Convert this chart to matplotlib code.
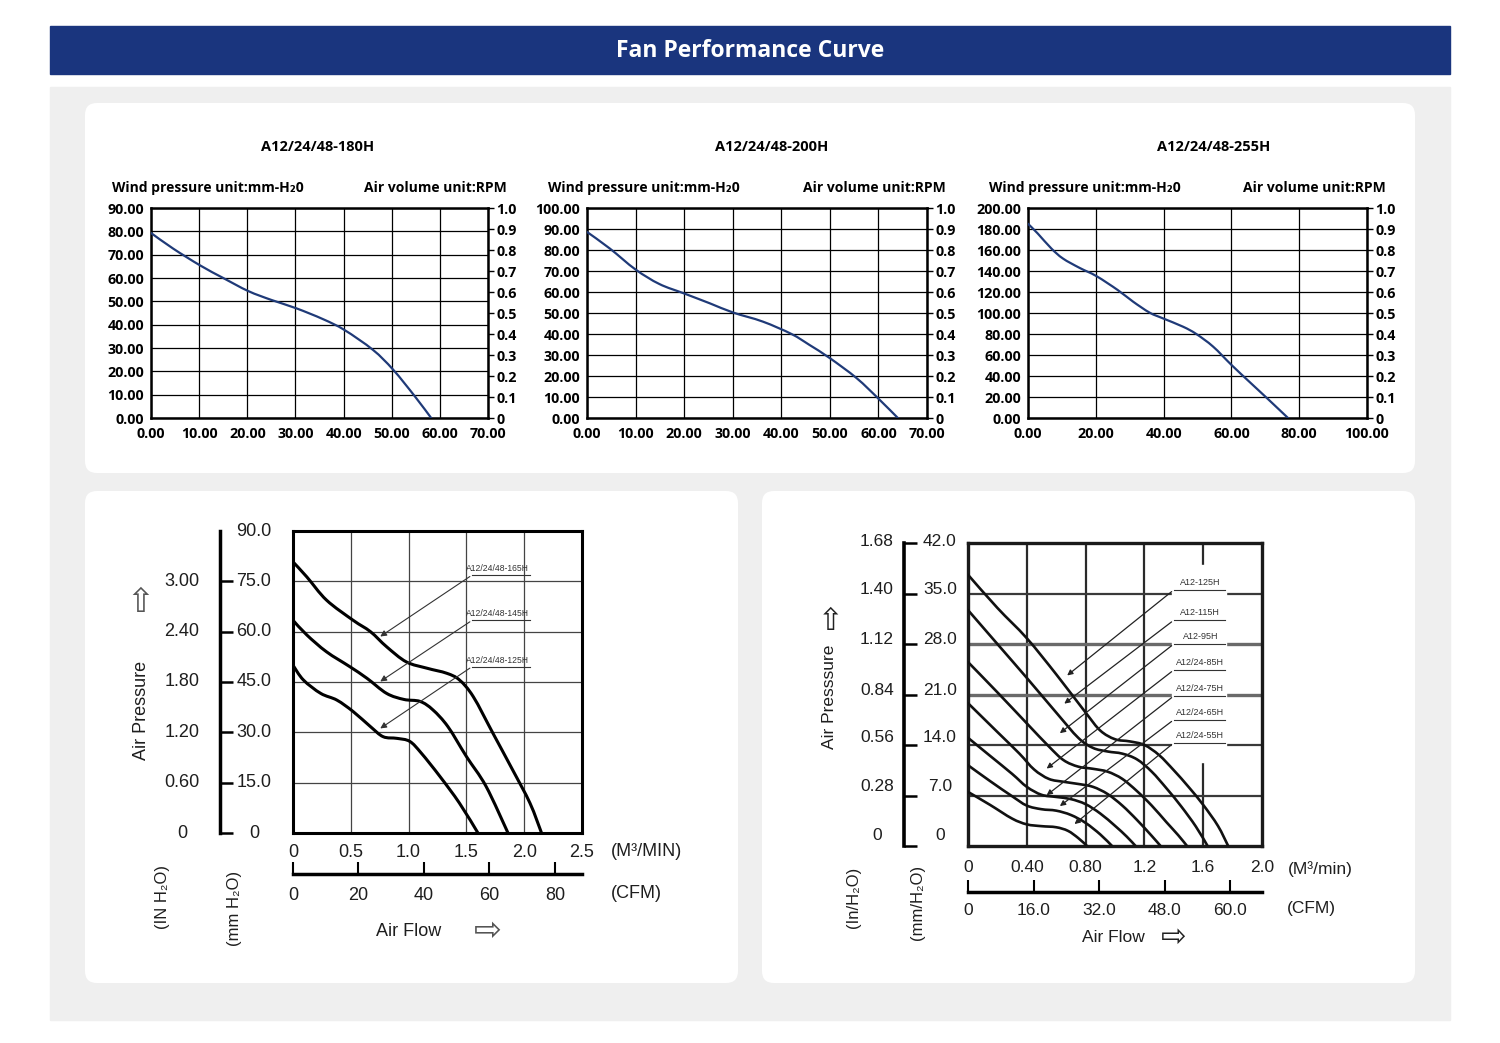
import numpy as np
import matplotlib
matplotlib.use("Agg")
import matplotlib.pyplot as plt
import matplotlib.transforms as mtransforms
from matplotlib.patches import FancyBboxPatch, Rectangle, PathPatch
from matplotlib.path import Path

plt.rcParams['font.family'] = ['Open Sans', 'DejaVu Sans']

W, H = 1500, 1043
NAVY = '#1f3a78'

# curvas superiores: caudal vs presion (mm-H2O)
x_180h = [0, 4.6, 10.2, 15.0, 20.2, 25.0, 30.2, 35.8, 40.2, 46.1, 50.3, 54.8, 58.2]
y_180h = [79.3, 72.6, 65.4, 60.0, 54.4, 50.6, 47.0, 42.3, 37.7, 29.2, 20.7, 9.3, 0]

x_200h = [0, 4.7, 10.0, 14.9, 20.0, 25.3, 30.1, 36.2, 42.1, 45.8, 50.0, 55.5, 60.1, 64.0]
y_200h = [88.6, 80.7, 70.7, 63.8, 59.3, 54.6, 50.2, 45.9, 40.0, 34.8, 28.5, 19.0, 9.0, 0]

x_255h = [0, 2.9, 6.9, 10.3, 15.2, 20.2, 26.5, 31.0, 35.9, 39.8, 45.7, 49.6, 54.6, 60.0, 65.4, 70.8, 76.7]
y_255h = [185, 175.6, 161.4, 151.9, 143, 135.1, 121.8, 110.8, 100.3, 94.9, 87, 80.1, 68, 50.6, 34.2, 18, 0]

rpm_ticks = [0, 0.1, 0.2, 0.3, 0.4, 0.5, 0.6, 0.7, 0.8, 0.9, 1.0]
rpm_labels = ['0', '0.1', '0.2', '0.3', '0.4', '0.5', '0.6', '0.7', '0.8', '0.9', '1.0']

# abajo izquierda: M3/min vs mm H2O
bl_names = ['A12/24/48-165H', 'A12/24/48-145H', 'A12/24/48-125H']
bl_x = [
    [0, 0.12, 0.29, 0.52, 0.67, 0.81, 0.98, 1.16, 1.33, 1.44, 1.56, 1.73, 1.90, 2.05, 2.15],
    [0, 0.12, 0.29, 0.49, 0.64, 0.81, 0.96, 1.10, 1.21, 1.34, 1.50, 1.67, 1.86],
    [0, 0.09, 0.24, 0.38, 0.52, 0.67, 0.78, 0.90, 1.01, 1.11, 1.27, 1.44, 1.60],
]
bl_y = [
    [80.8, 76.3, 69.4, 63.4, 60.0, 55.5, 51.0, 49.1, 47.6, 45.6, 40.6, 29.7, 18.8, 8.9, 0],
    [63.4, 59.0, 54.0, 49.6, 46.1, 41.6, 39.8, 39.2, 36.7, 31.7, 22.8, 13.9, 0],
    [50.0, 45.6, 41.6, 39.6, 36.2, 31.7, 28.7, 28.2, 27.3, 23.8, 16.9, 8.9, 0],
]
bl_tips = [(0.735, 58.1), (0.735, 44.7), (0.735, 30.7)]
bl_mm_ticks = [0, 15, 30, 45, 60, 75]
bl_mm_labels = ['0', '15.0', '30.0', '45.0', '60.0', '75.0']
bl_in_labels = ['0', '0.60', '1.20', '1.80', '2.40', '3.00']
bl_flow_ticks = [0, 0.5, 1.0, 1.5, 2.0, 2.5]
bl_flow_labels = ['0', '0.5', '1.0', '1.5', '2.0', '2.5']
bl_cfm_ticks = [0, 20, 40, 60, 80]

# abajo derecha
br_names = ['A12-125H', 'A12-115H', 'A12-95H', 'A12/24-85H', 'A12/24-75H', 'A12/24-65H', 'A12/24-55H']
br_x = [
    [0, 0.2, 0.4, 0.6, 0.8, 0.9, 1.0, 1.1, 1.2, 1.3, 1.4, 1.5, 1.6, 1.7, 1.77],
    [0, 0.2, 0.4, 0.6, 0.75, 0.85, 0.95, 1.05, 1.15, 1.25, 1.35, 1.45, 1.55, 1.63],
    [0, 0.2, 0.4, 0.55, 0.65, 0.75, 0.85, 0.95, 1.05, 1.15, 1.25, 1.35, 1.43, 1.49],
    [0, 0.2, 0.35, 0.45, 0.55, 0.65, 0.75, 0.85, 0.95, 1.05, 1.15, 1.25, 1.31],
    [0, 0.15, 0.3, 0.4, 0.5, 0.6, 0.7, 0.8, 0.9, 1.0, 1.08, 1.14],
    [0, 0.15, 0.3, 0.4, 0.5, 0.6, 0.7, 0.8, 0.9, 0.98],
    [0, 0.15, 0.3, 0.4, 0.5, 0.6, 0.68, 0.75, 0.81],
]
br_y = [
    [37.6, 33.0, 28.8, 23.8, 18.5, 16.0, 14.8, 14.5, 14.0, 12.6, 10.5, 8.2, 5.7, 2.8, 0],
    [32.7, 28.0, 23.3, 18.5, 15.0, 13.6, 13.1, 12.8, 12.0, 10.3, 8.0, 5.5, 2.7, 0],
    [25.5, 21.3, 17.0, 13.8, 11.9, 11.0, 10.7, 10.3, 9.3, 7.6, 5.6, 3.3, 1.5, 0],
    [19.8, 15.8, 12.8, 10.6, 9.3, 8.9, 8.6, 8.2, 7.2, 5.6, 3.6, 1.4, 0],
    [15.0, 12.5, 10.0, 8.2, 7.1, 6.8, 6.5, 5.8, 4.5, 2.8, 1.3, 0],
    [11.2, 9.0, 6.9, 5.6, 5.1, 4.9, 4.3, 3.2, 1.6, 0],
    [7.5, 5.7, 3.8, 3.0, 2.75, 2.6, 2.1, 1.1, 0],
]
br_tips = [(0.66, 23.4), (0.64, 19.5), (0.61, 15.4), (0.52, 10.5), (0.52, 6.8), (0.61, 5.3), (0.71, 2.8)]
br_mm_ticks = [0, 7, 14, 21, 28, 35, 42]
br_mm_labels = ['0', '7.0', '14.0', '21.0', '28.0', '35.0', '42.0']
br_in_labels = ['0', '0.28', '0.56', '0.84', '1.12', '1.40', '1.68']
br_flow_ticks = [0, 0.4, 0.8, 1.2, 1.6, 2.0]
br_flow_labels = ['0', '0.40', '0.80', '1.2', '1.6', '2.0']
br_cfm_ticks = [0, 16, 32, 48, 64]
br_cfm_labels = ['0', '16.0', '32.0', '48.0', '60.0']


def smooth_line(ax, xs, ys, **kw):
    # curva suave (bezier tipo catmull-rom) que pasa por los puntos leidos
    p = list(zip(xs, ys))
    p = [p[0]] + p + [p[-1]]
    verts = [p[1]]
    codes = [Path.MOVETO]
    for i in range(1, len(p) - 2):
        p0, p1, p2, p3 = p[i - 1], p[i], p[i + 1], p[i + 2]
        c1 = (p1[0] + (p2[0] - p0[0]) / 6, p1[1] + (p2[1] - p0[1]) / 6)
        c2 = (p2[0] - (p3[0] - p1[0]) / 6, p2[1] - (p3[1] - p1[1]) / 6)
        verts += [c1, c2, p2]
        codes += [Path.CURVE4] * 3
    ax.add_patch(PathPatch(Path(verts, codes), fill=False, capstyle='round', **kw))


fig = plt.figure(figsize=(15, 10.43), dpi=100)
bg = fig.add_axes([0, 0, 1, 1])
bg.set_xlim(0, W)
bg.set_ylim(H, 0)
bg.axis('off')


def px_axes(l, t, r, b):
    return fig.add_axes([l / W, 1 - b / H, (r - l) / W, (b - t) / H])


# fondo, barra de titulo y tarjetas
bg.add_patch(Rectangle((50, 26), 1400, 48, color='#1a357e'))
bg.text(750, 51, 'Fan Performance Curve', color='white', fontsize=16.5, fontweight='bold',
        ha='center', va='center')
bg.add_patch(Rectangle((50, 87), 1400, 933, color='#efefef'))
for (l, t, w, h) in [(85, 103, 1330, 370), (85, 491, 653, 492), (762, 491, 653, 492)]:
    bg.add_patch(FancyBboxPatch((l, t), w, h, boxstyle='round,pad=0,rounding_size=12',
                                fc='white', ec='none'))

BOLD = 'bold'
FS = 10.3


def top_chart(l, r, title, title_x, xs, ys, xmax, xstep, ymax, ystep):
    ax = px_axes(l, 208, r, 418)
    smooth_line(ax, xs, ys, ec=NAVY, lw=1.6, zorder=3)
    ax.set_xlim(0, xmax)
    ax.set_ylim(0, ymax)
    ax.set_xticks(np.arange(0, xmax + 0.01, xstep))
    ax.set_yticks(np.arange(0, ymax + 0.01, ystep))
    ax.xaxis.set_major_formatter('{x:.2f}')
    ax.yaxis.set_major_formatter('{x:.2f}')
    ax.grid(True, color='black', lw=0.9)
    ax.set_axisbelow(True)
    for s in ax.spines.values():
        s.set_linewidth(1.8)
    ax.tick_params(axis='y', length=0, pad=5, labelsize=FS)
    ax.tick_params(axis='x', length=0, pad=6.5, labelsize=FS)
    for lab in ax.get_xticklabels() + ax.get_yticklabels():
        lab.set_fontweight(BOLD)
    ax2 = ax.twinx()
    ax2.set_ylim(0, 1)
    ax2.set_yticks(rpm_ticks)
    ax2.set_yticklabels(rpm_labels, fontsize=FS, fontweight=BOLD)
    ax2.tick_params(length=4, width=1, pad=2)
    for s in ax2.spines.values():
        s.set_visible(False)
    bg.text(title_x, 147, title, fontsize=10.5, fontweight=BOLD, ha='center', va='center')
    bg.text(l - 39, 188, 'Wind pressure unit:mm-H\u20820', fontsize=10, fontweight=BOLD,
            ha='left', va='center')
    bg.text(r + 19, 188, 'Air volume unit:RPM', fontsize=10, fontweight=BOLD,
            ha='right', va='center')


top_chart(151, 488, 'A12/24/48-180H', 318, x_180h, y_180h, 70, 10, 90, 10)
top_chart(587, 927, 'A12/24/48-200H', 772, x_200h, y_200h, 70, 10, 100, 10)
top_chart(1028, 1367, 'A12/24/48-255H', 1214, x_255h, y_255h, 100, 20, 200, 20)

# ---- graficos inferiores ----
SANS = ['Liberation Sans', 'DejaVu Sans']
TXT = '#1e1e1e'

# abajo izquierda
ax = px_axes(293, 531, 582, 833)
for xs, ys in zip(bl_x, bl_y):
    smooth_line(ax, xs, ys, ec='black', lw=2.2, zorder=3)
ax.set_xlim(0, 2.5)
ax.set_ylim(0, 90)
ax.set_xticks(bl_flow_ticks)
ax.set_xticklabels(bl_flow_labels, family=SANS, fontsize=13, color=TXT)
ax.set_yticks(bl_mm_ticks[1:])
ax.set_yticklabels([])
ax.tick_params(length=0, pad=8)
ax.grid(True, color='#444444', lw=0.9)
for s in ax.spines.values():
    s.set_linewidth(2.2)
for i, name in enumerate(bl_names):
    ly = [77.5, 64.0, 50.2][i]
    ax.text(1.77, ly, name, fontsize=6.2, family=SANS, color='#333333', ha='center', va='bottom')
    ax.plot([1.55, 2.05], [ly - 0.6, ly - 0.6], color='#333333', lw=0.8)
    ax.annotate('', xy=bl_tips[i], xytext=(1.55, ly - 0.6),
                arrowprops=dict(arrowstyle='-|>', color='#333333', lw=0.8, mutation_scale=9))

axl = px_axes(220, 531, 235, 833)
axl.set_ylim(0, 90)
axl.set_xticks([])
axl.set_yticks(bl_mm_ticks)
axl.set_yticklabels([])
axl.tick_params(axis='y', direction='in', length=9, width=1.8)
for k, s in axl.spines.items():
    s.set_visible(k == 'left')
axl.spines['left'].set_linewidth(2.5)
axl.patch.set_visible(False)
tr = mtransforms.blended_transform_factory(axl.transAxes, axl.transData)
for v, a, b in zip(bl_mm_ticks, bl_mm_labels, bl_in_labels):
    axl.text(2.27, v, a, transform=tr, family=SANS, fontsize=13, color=TXT, ha='center', va='center')
    axl.text(-2.53, v, b, transform=tr, family=SANS, fontsize=13, color=TXT, ha='center', va='center')
axl.text(2.27, 90, '90.0', transform=tr, family=SANS, fontsize=13, color=TXT, ha='center', va='center')

axc = px_axes(293, 860, 582, 874)
axc.set_xlim(0, 2.5 / 0.02832)
axc.set_yticks([])
axc.set_xticks(bl_cfm_ticks)
axc.set_xticklabels([str(t) for t in bl_cfm_ticks], family=SANS, fontsize=13, color=TXT)
axc.tick_params(axis='x', direction='in', length=9, width=1.5, pad=9)
for k, s in axc.spines.items():
    s.set_visible(k == 'bottom')
axc.spines['bottom'].set_linewidth(2.5)
axc.patch.set_visible(False)

bg.text(611, 852, '(M\u00b3/MIN)', family=SANS, fontsize=13, color=TXT, ha='left', va='center')
bg.text(611, 893, '(CFM)', family=SANS, fontsize=13, color=TXT, ha='left', va='center')
bg.text(409, 932, 'Air Flow', family=SANS, fontsize=13, color=TXT, ha='center', va='center')
bg.text(488, 930, '\u21e8', family='DejaVu Sans', fontsize=24, color='#555555', ha='center', va='center')
bg.text(142, 710, 'Air Pressure', family=SANS, fontsize=13, color=TXT, rotation=90, ha='center', va='center')
bg.text(140, 603, '\u21e7', family='DejaVu Sans', fontsize=24, color='#555555', ha='center', va='center')
bg.text(163, 897, '(IN H\u2082O)', family=SANS, fontsize=12, color=TXT, rotation=90, ha='center', va='center')
bg.text(235, 908, '(mm H\u2082O)', family=SANS, fontsize=12, color=TXT, rotation=90, ha='center', va='center')

# abajo derecha
ax = px_axes(968, 543, 1262, 846)
ax.set_xlim(0, 2.0)
ax.set_ylim(0, 42)
for v in br_flow_ticks[1:-1]:
    ax.axvline(v, color='#2a2a2a', lw=1.6, zorder=1)
for v in br_mm_ticks[1:-1]:
    if v in (21, 28):
        ax.axhline(v, color='#6a6a6a', lw=2.4, zorder=1)
    else:
        ax.axhline(v, color='#3a3a3a', lw=1.6, zorder=1)
ax.add_patch(Rectangle((1.39, 11.6), 0.365, 27.3, color='white', zorder=2))
for xs, ys in zip(br_x, br_y):
    smooth_line(ax, xs, ys, ec='#111111', lw=1.9, zorder=3)
ax.set_xticks(br_flow_ticks)
ax.set_xticklabels(br_flow_labels, family=SANS, fontsize=12.5, color=TXT)
shift = mtransforms.ScaledTranslation(0.06, 0, fig.dpi_scale_trans)
for lab in ax.get_xticklabels():
    lab.set_transform(lab.get_transform() + shift)
ax.set_yticks([])
ax.tick_params(length=0, pad=10)
for s in ax.spines.values():
    s.set_linewidth(2.4)
    s.set_color('#1a1a1a')
label_y = [35.9, 31.7, 28.4, 24.8, 21.2, 17.9, 14.7]
for i, name in enumerate(br_names):
    ly = label_y[i]
    ax.text(1.58, ly, name, fontsize=6.5, family=SANS, color='#333333', ha='center', va='bottom', zorder=4)
    ax.plot([1.40, 1.745], [ly - 0.4, ly - 0.4], color='#333333', lw=0.8, zorder=4)
    ax.annotate('', xy=br_tips[i], xytext=(1.40, ly - 0.4),
                arrowprops=dict(arrowstyle='-|>', color='#222222', lw=0.9, mutation_scale=8), zorder=4)

axb = px_axes(904, 543, 918, 846)
axb.set_ylim(0, 42)
axb.set_xticks([])
axb.set_yticks(br_mm_ticks)
axb.set_yticklabels([])
axb.tick_params(axis='y', direction='in', length=9, width=1.8)
for k, s in axb.spines.items():
    s.set_visible(k == 'left')
axb.spines['left'].set_linewidth(2.6)
axb.patch.set_visible(False)
tr = mtransforms.blended_transform_factory(axb.transAxes, axb.transData)
shift_px = [10, 9, 8, 4, 4, 4, 2]
for v, a, b, sh in zip(br_mm_ticks, br_mm_labels, br_in_labels, shift_px):
    off = mtransforms.ScaledTranslation(0, sh / 100, fig.dpi_scale_trans)
    axb.text(2.57, v, a, transform=tr + off, family=SANS, fontsize=12.5, color=TXT, ha='center', va='center')
    axb.text(-1.93, v, b, transform=tr + off, family=SANS, fontsize=12.5, color=TXT, ha='center', va='center')

axc = px_axes(968, 878, 1262, 892)
axc.set_xlim(0, 2.0 / 0.4456 * 16)
axc.set_yticks([])
axc.set_xticks(br_cfm_ticks)
axc.set_xticklabels(br_cfm_labels, family=SANS, fontsize=12.5, color=TXT)
axc.tick_params(axis='x', direction='in', length=9, width=1.5, pad=8)
for k, s in axc.spines.items():
    s.set_visible(k == 'bottom')
axc.spines['bottom'].set_linewidth(2.5)
axc.patch.set_visible(False)

bg.text(1288, 869, '(M\u00b3/min)', family=SANS, fontsize=12.5, color=TXT, ha='left', va='center')
bg.text(1287, 908, '(CFM)', family=SANS, fontsize=12.5, color=TXT, ha='left', va='center')
bg.text(1113, 938, 'Air Flow', family=SANS, fontsize=12.5, color=TXT, ha='center', va='center')
bg.text(1174, 937, '\u21e8', family='DejaVu Sans', fontsize=22, color='#222222', ha='center', va='center')
bg.text(830, 697, 'Air Presssure', family=SANS, fontsize=12.5, color=TXT, rotation=90, ha='center', va='center')
bg.text(831, 621, '\u21e7', family='DejaVu Sans', fontsize=22, color='#222222', ha='center', va='center')
bg.text(853, 897, '(In/H\u2082O)', family=SANS, fontsize=12, color=TXT, rotation=90, ha='center', va='center')
bg.text(917, 902, '(mm/H\u2082O)', family=SANS, fontsize=12, color=TXT, rotation=90, ha='center', va='center')

fig.savefig('out.png', dpi=100)
